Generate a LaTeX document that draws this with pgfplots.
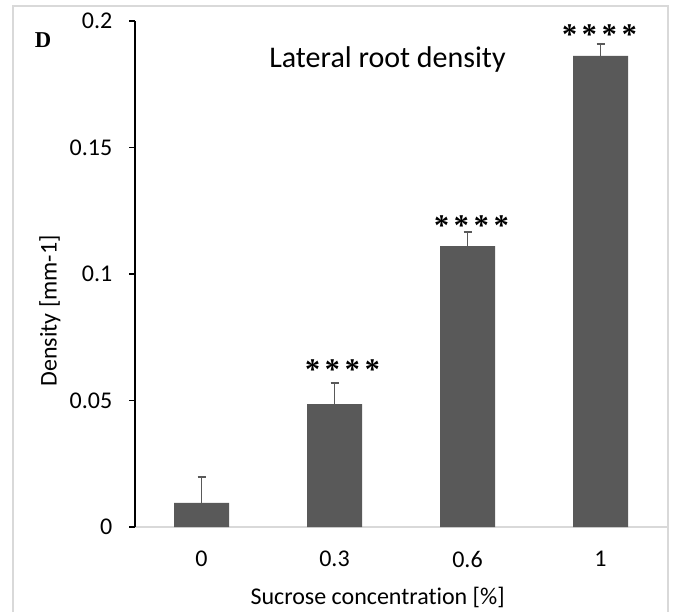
\documentclass[border=0pt]{standalone}
\usepackage{pgfplots}
\pgfplotsset{compat=1.18}
\usepackage{fontspec}
\setmainfont{Carlito}[Ligatures=NoCommon]
\newfontfamily\serif{Liberation Serif}
\definecolor{barfill}{HTML}{595959}
\definecolor{framegray}{HTML}{D9D9D9}
% four significance stars, spaced like the original
\newcommand{\stars}{{\serif\bfseries\fontsize{22.5}{22.5}\selectfont *\kern3.75pt*\kern3.75pt*\kern3.75pt*}}

\begin{document}
\begin{tikzpicture}[x=0.75pt,y=0.75pt]
\useasboundingbox (0,0) rectangle (678,612);
\draw[framegray, line width=1.2pt] (13,0) -- (13,606) -- (668,606) -- (668,0);
\node[font=\serif\bfseries\fontsize{17}{17}\selectfont] at (43,572) {D};
\begin{axis}[
    at={(101.25pt,63.75pt)}, anchor=south west,
    scale only axis,
    width=399pt, height=379.5pt,
    xmin=-0.5, xmax=3.5,
    ymin=0, ymax=0.2,
    ybar, bar width=41.25pt,
    axis x line*=bottom, axis y line*=left,
    x axis line style={-, framegray, line width=1.2pt},
    y axis line style={-, black, line width=1.1pt},
    xtick={0,1,2,3}, xticklabels={0,0.3,0.6,1},
    ytick={0,0.05,0.1,0.15,0.2}, yticklabels={0,0.05,0.1,0.15,0.2},
    /pgf/number format/assume math mode=true,
    major x tick style={draw=none},
    major y tick style={black, line width=1.1pt},
    tick align=outside, major tick length=4.5pt,
    tick label style={font=\fontsize{18}{18}\selectfont},
    xticklabel style={yshift=-10pt},
    yticklabel style={xshift=-9pt},
    xlabel={Sucrose concentration [\%]},
    ylabel={Density [mm-1]},
    every axis x label/.style={at={(axis description cs:0.456,-0.140)}, anchor=center, font=\fontsize{18}{18}\selectfont},
    every axis y label/.style={at={(axis description cs:-0.160,0.427)}, anchor=center, rotate=90, font=\fontsize{18}{18}\selectfont},
    clip=false,
]
\addplot[fill=barfill, draw=none,
    error bars/.cd, y dir=plus, y explicit,
    error bar style={color=barfill, line width=1.2pt},
    error mark options={rotate=90, mark size=3pt, color=barfill, line width=1.2pt}]
coordinates {
    (0,0.0095) +- (0,0.0103)
    (1,0.0486) +- (0,0.0084)
    (2,0.1110) +- (0,0.0056)
    (3,0.1862) +- (0,0.0047)
};
\node[anchor=base, font=\fontsize{22.5}{22.5}\selectfont] at (axis description cs:0.4746,0.909) {Lateral root density};
\node[anchor=base, xshift=6pt] at (axis cs:1,0.0584) {\stars};
\node[anchor=base, xshift=3pt] at (axis cs:2,0.1154) {\stars};
\node[anchor=base, xshift=-0.75pt] at (axis cs:3,0.1909) {\stars};
\end{axis}
\end{tikzpicture}
\end{document}
